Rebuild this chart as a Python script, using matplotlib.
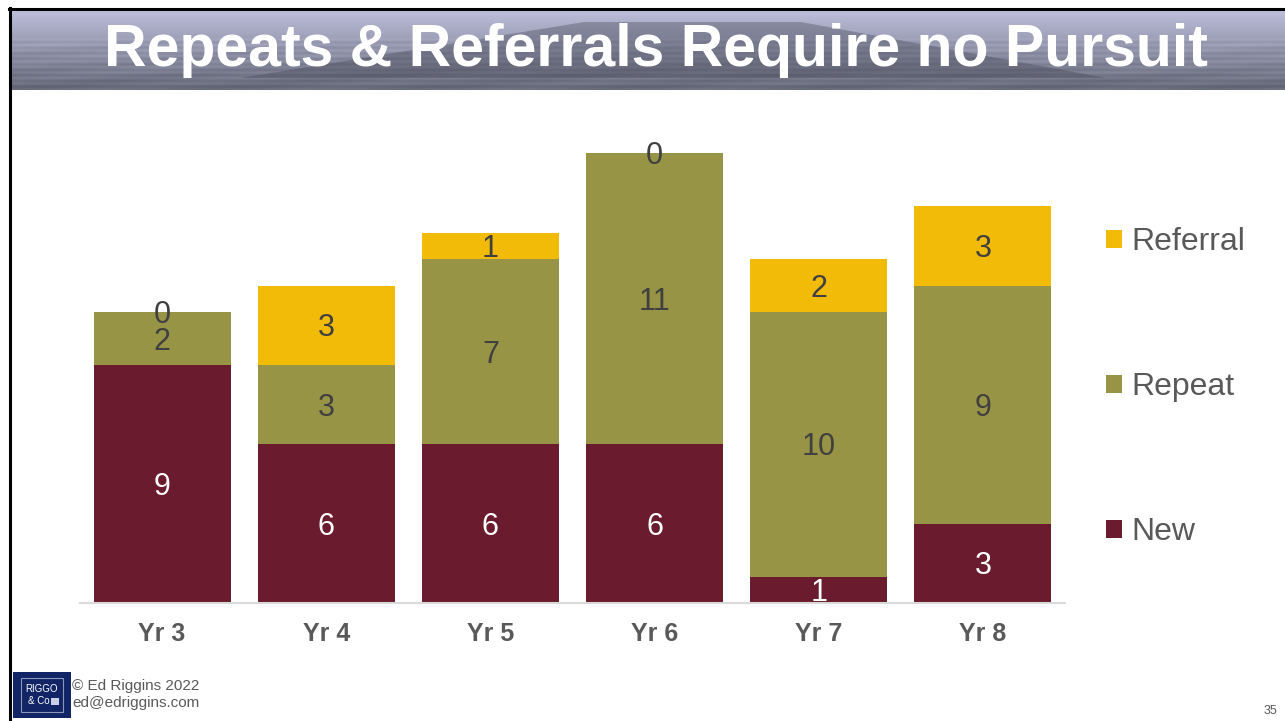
import numpy as np
import matplotlib
matplotlib.use("Agg")
import matplotlib.pyplot as plt
import matplotlib.transforms as mtransforms
from matplotlib.patches import Rectangle, Polygon
from matplotlib.lines import Line2D

# ---- data ----
categories = ["Yr 3", "Yr 4", "Yr 5", "Yr 6", "Yr 7", "Yr 8"]
new_vals = [9, 6, 6, 6, 1, 3]
repeat_vals = [2, 3, 7, 11, 10, 9]
referral_vals = [0, 3, 1, 0, 2, 3]
series_names = ["New", "Repeat", "Referral"]
series_colors = ["#6A1B2E", "#989445", "#F2BB07"]
label_colors = ["#FFFFFF", "#404040", "#404040"]
title = "Repeats & Referrals Require no Pursuit"

W, H = 1285, 721
fig = plt.figure(figsize=(W / 100, H / 100), dpi=100)
plt.rcParams['font.family'] = ['Liberation Sans', 'DejaVu Sans']

def fx(px):
    return px / W

def fy(py):
    return 1 - py / H

# ---- banner ----
bax = fig.add_axes([fx(11), fy(90), fx(W - 11), (90 - 10) / H])
rows = 80
t = np.linspace(0, 1, rows)[:, None]
top = np.array([0.74, 0.75, 0.86])
bot = np.array([0.40, 0.41, 0.47])
xs = np.linspace(0, 1, 400)[None, :]
streak = 0.025 * np.sin(t * 90) * (t > 0.35) + 0.015 * np.sin(xs * 40 + t * 30) * (t > 0.4)
grad = top[None, None, :] * (1 - t[..., None]) + bot[None, None, :] * t[..., None]
grad = grad + streak[..., None]
img = np.clip(grad * np.ones((rows, 400, 1)), 0, 1)
bax.imshow(img, aspect='auto', extent=[0, 1, 0, 1], interpolation='bilinear')
bax.add_patch(Polygon([[0.18, 0.15], [0.86, 0.15], [0.62, 0.85], [0.45, 0.85]],
                      closed=True, facecolor="#3f4150", alpha=0.35, edgecolor='none'))
bax.set_xlim(0, 1)
bax.set_ylim(0, 1)
bax.axis('off')
fig.text(fx(656), fy(50), title, color='white', fontsize=42.5, fontweight='bold',
         ha='center', va='center')

# ---- borders ----
fig.add_artist(Line2D([fx(10), fx(10)], [fy(8), fy(721)], color='black', lw=2.2))
fig.add_artist(Line2D([fx(9), 1], [fy(9), fy(9)], color='black', lw=2.2))

# ---- chart ----
ax = fig.add_axes([fx(80), fy(603), fx(1065 - 80), (603 - 127) / H])
x = np.arange(len(categories))
bottoms = np.zeros(len(categories))
handles = []
down = mtransforms.offset_copy(ax.transData, fig=fig, x=0, y=-3, units='dots')
for vals, name, col, lc in zip([new_vals, repeat_vals, referral_vals], series_names,
                               series_colors, label_colors):
    v = np.array(vals, dtype=float)
    bars = ax.bar(x, v, bottom=bottoms, width=0.835, color=col, label=name)
    handles.append(bars)
    for xi, b, vi in zip(x, bottoms, v):
        ax.text(xi, b + vi / 2, f"{int(vi)}", ha='center', va='center',
                fontsize=22, color=lc, transform=down)
    bottoms = bottoms + v

ax.set_xlim(-0.5, len(categories) - 0.5)
ax.set_ylim(0, 18)
ax.set_xticks(x)
ax.set_xticklabels(categories, fontsize=18, fontweight='bold', color='#595959')
ax.tick_params(axis='x', length=0, pad=14)
ax.set_yticks([])
for s in ['top', 'right', 'left']:
    ax.spines[s].set_visible(False)
ax.spines['bottom'].set_color('#D9D9D9')
ax.spines['bottom'].set_linewidth(1.5)

leg = fig.legend(handles[::-1], series_names[::-1], loc='center left',
                 bbox_to_anchor=(fx(1106), fy(387)), frameon=False,
                 fontsize=23, labelspacing=3.6, handlelength=0.5,
                 handleheight=0.5, handletextpad=0.3, borderpad=0,
                 borderaxespad=0)
for txt in leg.get_texts():
    txt.set_color('#595959')

# ---- footer ----
lax = fig.add_axes([fx(13), fy(718), fx(71 - 13), (718 - 672) / H])
lax.set_xlim(0, 1)
lax.set_ylim(0, 1)
lax.add_patch(Rectangle((0, 0), 1, 1, facecolor='#102466', edgecolor='none'))
lax.add_patch(Rectangle((0.14, 0.12), 0.72, 0.76, facecolor='none',
                        edgecolor='#8d96b8', lw=0.8))
lax.text(0.5, 0.62, "RIGGO", color='white', fontsize=7, ha='center', va='center')
lax.text(0.45, 0.36, "& Co", color='white', fontsize=7, ha='center', va='center')
lax.add_patch(Rectangle((0.66, 0.28), 0.13, 0.15, facecolor='#c9cfe6', edgecolor='none'))
lax.axis('off')

fig.text(fx(72), fy(686), "© Ed Riggins 2022", fontsize=11, color='#595959',
         ha='left', va='center')
fig.text(fx(72), fy(703), "ed@edriggins.com", fontsize=11, color='#595959',
         ha='left', va='center')
fig.text(fx(1270), fy(711), "35", fontsize=9, color='#595959', ha='center', va='center')

fig.savefig("out.png", dpi=100)
